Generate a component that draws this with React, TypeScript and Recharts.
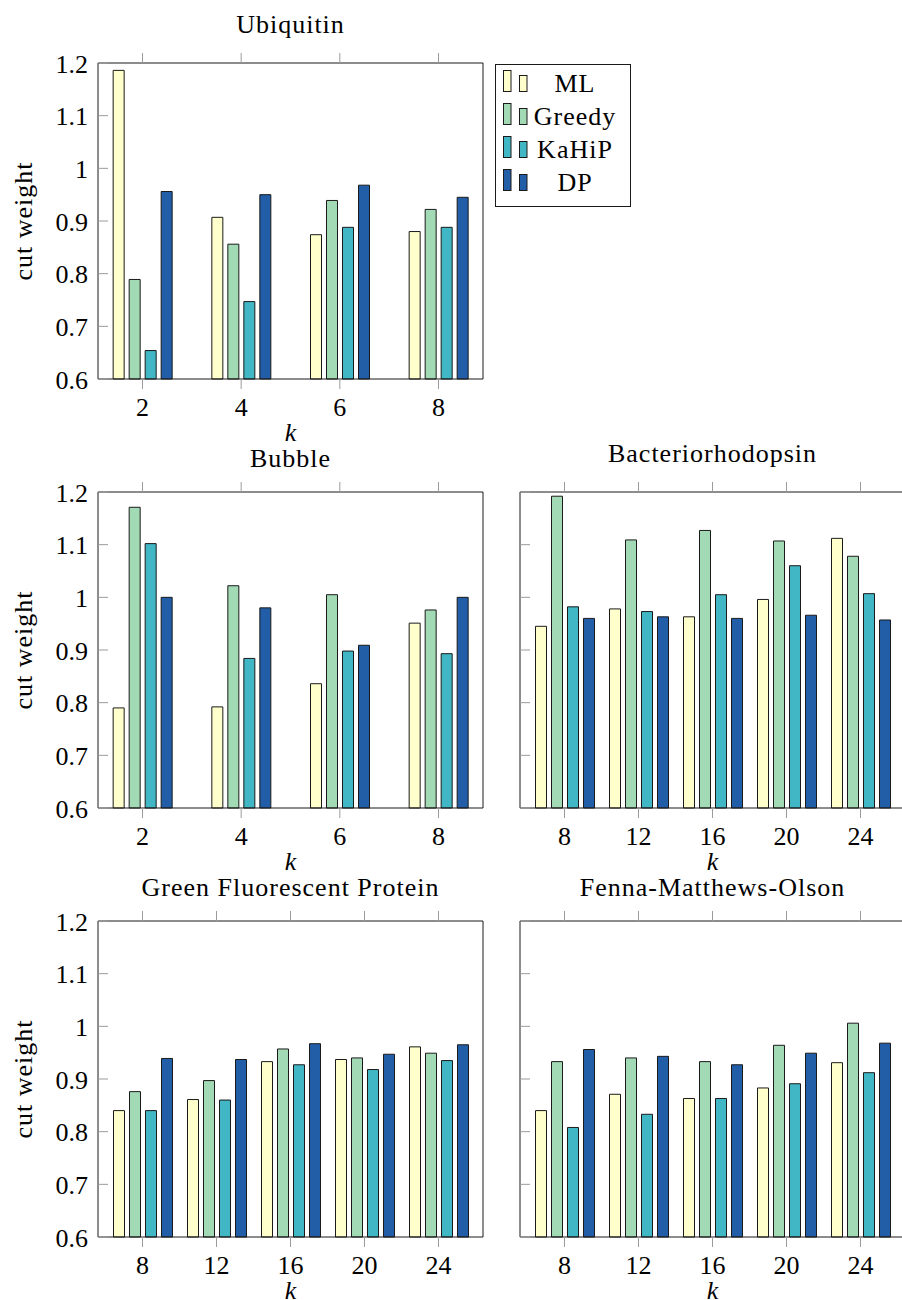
import React from 'react';
import { BarChart, Bar, XAxis, YAxis, Legend } from 'recharts';

const FONT = 'Liberation Serif';
const FRAME = '#1a1a1a';
const TICK_GREY = '#9b9b9b';
const LINE_H = 30; // html line box used for text
const ASC = 23.8; // baseline offset inside that line box

const seriesNames = ['ML', 'Greedy', 'KaHiP', 'DP'];
const seriesColors = ['#ffffcc', '#a1dab4', '#41b6c4', '#225ea8'];

const kFew = ['2', '4', '6', '8'];
const kMany = ['8', '12', '16', '20', '24'];
const yTicks = [0.6, 0.7, 0.8, 0.9, 1, 1.1, 1.2];

// Ubiquitin
const ubiMl = [1.186, 0.907, 0.874, 0.88];
const ubiGreedy = [0.789, 0.856, 0.939, 0.922];
const ubiKahip = [0.654, 0.747, 0.888, 0.888];
const ubiDp = [0.956, 0.95, 0.968, 0.945];

// Bubble
const bubMl = [0.79, 0.792, 0.836, 0.951];
const bubGreedy = [1.171, 1.022, 1.005, 0.976];
const bubKahip = [1.102, 0.884, 0.898, 0.893];
const bubDp = [1.0, 0.98, 0.909, 1.0];

// Bacteriorhodopsin
const bacMl = [0.945, 0.978, 0.963, 0.996, 1.112];
const bacGreedy = [1.192, 1.109, 1.127, 1.107, 1.078];
const bacKahip = [0.982, 0.973, 1.005, 1.06, 1.007];
const bacDp = [0.96, 0.963, 0.96, 0.966, 0.957];

// Green Fluorescent Protein
const gfpMl = [0.84, 0.861, 0.933, 0.937, 0.961];
const gfpGreedy = [0.876, 0.897, 0.957, 0.94, 0.949];
const gfpKahip = [0.84, 0.86, 0.927, 0.918, 0.935];
const gfpDp = [0.939, 0.937, 0.967, 0.947, 0.965];

// Fenna-Matthews-Olson
const fmoMl = [0.84, 0.871, 0.863, 0.883, 0.931];
const fmoGreedy = [0.933, 0.94, 0.933, 0.964, 1.006];
const fmoKahip = [0.808, 0.833, 0.863, 0.891, 0.912];
const fmoDp = [0.956, 0.943, 0.927, 0.949, 0.968];

type Row = { k: string; ML: number; Greedy: number; KaHiP: number; DP: number };

const makeRows = (ks: string[], ml: number[], greedy: number[], kahip: number[], dp: number[]): Row[] =>
  ks.map((k, i) => ({ k, ML: ml[i], Greedy: greedy[i], KaHiP: kahip[i], DP: dp[i] }));

const PLOT_W = 385;
const PLOT_H = 316;
const AXIS_L = 98;
const AXIS_R = 12;
const AXIS_T = 64;
const AXIS_B = 76;
const EDGE = 44.5; // frame to first / last group centre

// serif text inside the svg, laid out as html
type HtmlTextProps = {
  x: number;
  baseline: number;
  align: 'left' | 'center' | 'right';
  children: React.ReactNode;
  italic?: boolean;
  spacing?: number;
  transform?: string;
  box?: number;
};

const HtmlText = ({ x, baseline, align, children, italic, spacing = 0, transform, box = 400 }: HtmlTextProps) => {
  const left = align === 'center' ? x - box / 2 : align === 'right' ? x - box : x;
  return (
    <foreignObject x={left} y={baseline - ASC} width={box} height={LINE_H} transform={transform} style={{ overflow: 'visible' }}>
      <div
        style={{
          fontFamily: FONT,
          fontSize: 26,
          lineHeight: `${LINE_H}px`,
          textAlign: align,
          whiteSpace: 'nowrap',
          fontStyle: italic ? 'italic' : 'normal',
          letterSpacing: spacing,
          color: '#000',
        }}
      >
        {children}
      </div>
    </foreignObject>
  );
};

const LeftTick = (props: any) => {
  const { x, y, payload, showLabel } = props;
  return (
    <g>
      <line x1={x + 10} x2={x + 20} y1={y} y2={y} stroke={TICK_GREY} strokeWidth={1} />
      {showLabel && (
        <HtmlText x={x} baseline={y + 10.5} align="right" box={80}>
          {String(payload.value)}
        </HtmlText>
      )}
    </g>
  );
};

const BottomTick = (props: any) => {
  const { x, y, payload } = props;
  return (
    <HtmlText x={x} baseline={y + 18} align="center" box={80}>
      {payload.value}
    </HtmlText>
  );
};

const LegendBox = (props: any) => {
  const items = [...(props.payload ?? [])].sort(
    (a: any, b: any) => seriesNames.indexOf(a.value) - seriesNames.indexOf(b.value)
  );
  return (
    <div style={{ position: 'relative', width: 136, height: 143 }}>
      <svg width={136} height={143} style={{ display: 'block', position: 'absolute', left: 0, top: 0 }}>
        <rect x={0.5} y={0.5} width={135} height={142} fill="#fff" stroke={FRAME} />
        {items.map((it: any, i: number) => {
          const base = 27.5 + 33 * i;
          return (
            <g key={it.value}>
              <rect x={8.5} y={base - 21} width={7.5} height={21} fill={it.color} stroke={FRAME} />
              <rect x={24.5} y={base - 16} width={7.5} height={16} fill={it.color} stroke={FRAME} />
            </g>
          );
        })}
      </svg>
      {items.map((it: any, i: number) => (
        <div
          key={it.value}
          style={{
            position: 'absolute',
            left: 30,
            width: 100,
            top: 27.5 + 33 * i + 1.5 - ASC,
            height: LINE_H,
            lineHeight: `${LINE_H}px`,
            textAlign: 'center',
            fontFamily: FONT,
            fontSize: 26,
            letterSpacing: 1,
            color: '#000',
            whiteSpace: 'nowrap',
          }}
        >
          {it.value}
        </div>
      ))}
    </div>
  );
};

type PanelProps = {
  left: number;
  top: number;
  title: string;
  titleLift: number;
  rows: Row[];
  labels: boolean;
  legend?: boolean;
};

const Panel = ({ left, top, title, titleLift, rows, labels, legend }: PanelProps) => {
  const n = rows.length;
  const step = (PLOT_W - 2 * EDGE) / (n - 1);
  const pad = (PLOT_W - n * step) / 2;
  const xPad = { left: pad, right: pad };
  const chartLeft = left - AXIS_L;
  const chartTop = top - AXIS_T;

  return (
    <div style={{ position: 'absolute', left: chartLeft, top: chartTop }}>
      <BarChart
        width={AXIS_L + PLOT_W + AXIS_R}
        height={AXIS_T + PLOT_H + AXIS_B}
        data={rows}
        margin={{ top: 0, right: 0, bottom: 0, left: 0 }}
        barSize={11}
        barGap={5}
      >
        <XAxis
          xAxisId="top"
          orientation="top"
          dataKey="k"
          height={AXIS_T}
          padding={xPad}
          interval={0}
          axisLine={{ stroke: FRAME }}
          tickLine={{ stroke: TICK_GREY }}
          tickSize={10}
          tickFormatter={() => ''}
          label={(p: any) => {
            const vb = p.viewBox ?? { x: 0, y: 0, width: 0, height: 0 };
            return (
              <HtmlText x={vb.x + vb.width / 2} baseline={vb.y + vb.height - titleLift} align="center" spacing={1}>
                {title}
              </HtmlText>
            );
          }}
        />
        <XAxis
          xAxisId="bottom"
          dataKey="k"
          height={AXIS_B}
          padding={xPad}
          interval={0}
          axisLine={{ stroke: FRAME }}
          tickLine={{ stroke: TICK_GREY }}
          tickSize={10}
          tickMargin={10}
          tick={<BottomTick />}
          label={(p: any) => {
            const vb = p.viewBox ?? { x: 0, y: 0, width: 0, height: 0 };
            return (
              <HtmlText x={vb.x + vb.width / 2} baseline={vb.y + 62.5} align="center" italic box={60}>
                k
              </HtmlText>
            );
          }}
        />
        <YAxis
          yAxisId="left"
          type="number"
          domain={[0.6, 1.2]}
          ticks={yTicks}
          interval={0}
          width={AXIS_L}
          axisLine={{ stroke: FRAME }}
          tickLine={false}
          tickSize={0}
          tickMargin={10}
          tick={<LeftTick showLabel={labels} />}
          label={(p: any) => {
            if (!labels) return null;
            const vb = p.viewBox ?? { x: 0, y: 0, width: 0, height: 0 };
            const cx = vb.x + 33;
            const cy = vb.y + vb.height / 2;
            return (
              <HtmlText
                x={cx}
                baseline={cy}
                align="center"
                spacing={1}
                box={200}
                transform={`rotate(-90 ${cx} ${cy})`}
              >
                cut weight
              </HtmlText>
            );
          }}
        />
        <YAxis
          yAxisId="right"
          orientation="right"
          type="number"
          domain={[0.6, 1.2]}
          ticks={yTicks}
          interval={0}
          width={AXIS_R}
          axisLine={{ stroke: FRAME }}
          tickLine={{ stroke: TICK_GREY }}
          tickSize={-10}
          tickFormatter={() => ''}
        />
        {seriesNames.map((s, i) => (
          <Bar
            key={s}
            dataKey={s}
            name={s}
            xAxisId="bottom"
            yAxisId="left"
            fill={seriesColors[i]}
            stroke={FRAME}
            strokeWidth={1}
            isAnimationActive={false}
          />
        ))}
        {legend && (
          <Legend
            layout="vertical"
            align="center"
            verticalAlign="middle"
            content={<LegendBox />}
            wrapperStyle={{ left: 495 - chartLeft, top: 64 - chartTop, width: 136, height: 143 }}
          />
        )}
      </BarChart>
    </div>
  );
};

export default function App() {
  return (
    <div
      style={{
        position: 'relative',
        width: 902,
        height: 1300,
        overflow: 'hidden',
        background: '#fff',
        fontFamily: FONT,
      }}
    >
      <style>{'body { margin: 0; }'}</style>
      <Panel
        left={98}
        top={63}
        title="Ubiquitin"
        titleLift={29}
        rows={makeRows(kFew, ubiMl, ubiGreedy, ubiKahip, ubiDp)}
        labels
        legend
      />
      <Panel
        left={98}
        top={492}
        title="Bubble"
        titleLift={24.5}
        rows={makeRows(kFew, bubMl, bubGreedy, bubKahip, bubDp)}
        labels
      />
      <Panel
        left={520}
        top={492}
        title="Bacteriorhodopsin"
        titleLift={29.5}
        rows={makeRows(kMany, bacMl, bacGreedy, bacKahip, bacDp)}
        labels={false}
      />
      <Panel
        left={98}
        top={921}
        title="Green Fluorescent Protein"
        titleLift={24.5}
        rows={makeRows(kMany, gfpMl, gfpGreedy, gfpKahip, gfpDp)}
        labels
      />
      <Panel
        left={520}
        top={921}
        title="Fenna-Matthews-Olson"
        titleLift={24.5}
        rows={makeRows(kMany, fmoMl, fmoGreedy, fmoKahip, fmoDp)}
        labels={false}
      />
    </div>
  );
}
